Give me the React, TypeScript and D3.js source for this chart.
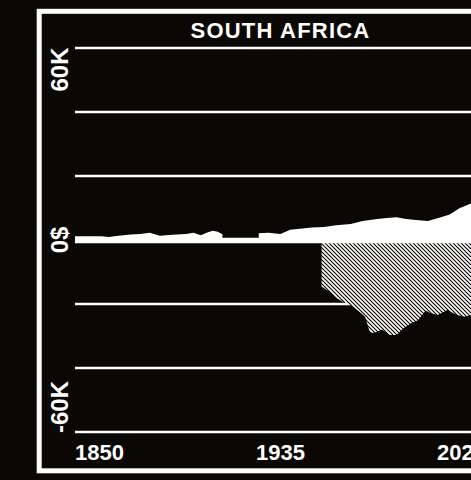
import * as d3 from "d3";

// South Africa, per-capita values in thousands of $
const TITLE = "SOUTH AFRICA";
const X_TICKS = [1850, 1935, 2020];
const Y_GRID = [60, 40, 20, -20, -40, -60];

const posYears = [
  1850, 1856, 1861, 1864, 1868, 1873, 1877, 1881, 1885, 1889, 1892, 1896, 1899, 1902, 1905,
  1907, 1909, 1911, 1918, 1926, 1930, 1935, 1939, 1944, 1948, 1953, 1958, 1964, 1969, 1975,
  1979, 1983, 1987, 1991, 1996, 2001, 2005, 2009, 2013, 2016, 2019, 2020,
];
const posValues: (number | null)[] = [
  1.2, 1.2, 1.15, 0.9, 1.3, 1.7, 1.9, 2.3, 1.35, 1.6, 1.7, 1.9, 2.3, 1.45, 2.4,
  2.9, 2.6, 1.8, null, 2.1, 2.3, 1.9, 3.2, 3.6, 3.9, 4.1, 4.6, 5.0, 5.9, 6.6,
  6.9, 7.1, 6.6, 6.25, 5.9, 7.0, 8.0, 9.9, 11.2, 12.0, 12.4, 12.5,
];

const negYears = [
  1952, 1955, 1958, 1961, 1964, 1967, 1970, 1971, 1972, 1974, 1977, 1980, 1983, 1986,
  1989, 1992, 1995, 1997, 2000, 2004, 2008, 2011, 2014, 2017, 2020,
];
const negValues = [
  -14.5, -16, -18.1, -19.4, -20.3, -22, -24, -26.5, -29, -29, -28, -29.7, -29.7, -27.5,
  -26, -25, -22, -22.8, -23.4, -21.9, -23.4, -24, -23.4, -23.5, -23,
];

const W = 471;
const H = 480;
const BG = "#0b0704";
const FONT = "'Liberation Sans', Arial, sans-serif";

export default function App() {
  const x = d3.scaleLinear().domain([1850, 2020]).range([75, 486]);
  const y = d3.scaleLinear().domain([-60, 60]).range([432, 48]);

  const pos = posYears.map((yr, i) => ({ yr, v: posValues[i] }));
  const neg = negYears.map((yr, i) => ({ yr, v: negValues[i] }));

  const posArea = d3
    .area<{ yr: number; v: number | null }>()
    .defined((d) => d.v !== null)
    .x((d) => x(d.yr))
    .y0(y(0))
    .y1((d) => y(d.v as number));

  const negArea = d3
    .area<{ yr: number; v: number }>()
    .x((d) => x(d.yr))
    .y0(y(0))
    .y1((d) => y(d.v));

  const [x0, x1] = x.range();

  return (
    <svg
      width={W}
      height={H}
      style={{ position: "fixed", left: 0, top: 0, overflow: "hidden", display: "block" }}
    >
      <defs>
        <pattern id="hatch" width={4} height={4} patternUnits="userSpaceOnUse">
          <rect width={4} height={4} fill={BG} />
          <path d="M0,0 L4,4 M-1,3 L1,5 M3,-1 L5,1" stroke="#fff" strokeWidth={1.7} />
        </pattern>
      </defs>
      <rect width={W} height={H} fill={BG} />
      <rect x={39.2} y={11.3} width={483} height={459.5} fill="none" stroke="#fff" strokeWidth={5} />

      <text
        x={280.5}
        y={37.7}
        textAnchor="middle"
        fill="#fff"
        fontFamily={FONT}
        fontWeight="bold"
        fontSize={22}
        letterSpacing={1.2}
      >
        {TITLE}
      </text>

      {Y_GRID.map((g) => (
        <line key={g} x1={x0} x2={x1} y1={y(g)} y2={y(g)} stroke="#fff" strokeWidth={2.5} />
      ))}

      <path d={posArea(pos) ?? ""} fill="#fff" />
      <path d={negArea(neg) ?? ""} fill="url(#hatch)" />
      <line x1={x0} x2={x1} y1={y(0) + 0.5} y2={y(0) + 0.5} stroke="#fff" strokeWidth={5.6} />

      <g fill="#fff" fontFamily={FONT} fontWeight="bold" fontSize={24}>
        <text transform={`translate(68,${y(60) - 0.5}) rotate(-90)`} textAnchor="end">60K</text>
        <text transform={`translate(68,${y(0)}) rotate(-90)`} textAnchor="middle">0$</text>
        <text transform={`translate(68,${y(-60) + 1}) rotate(-90)`} textAnchor="start">-60K</text>
      </g>

      <g fill="#fff" fontFamily={FONT} fontWeight="bold" fontSize={22}>
        {X_TICKS.map((t, i) => (
          <text
            key={t}
            x={x(t)}
            y={460}
            textAnchor={i === 0 ? "start" : i === X_TICKS.length - 1 ? "end" : "middle"}
          >
            {t}
          </text>
        ))}
      </g>
    </svg>
  );
}
